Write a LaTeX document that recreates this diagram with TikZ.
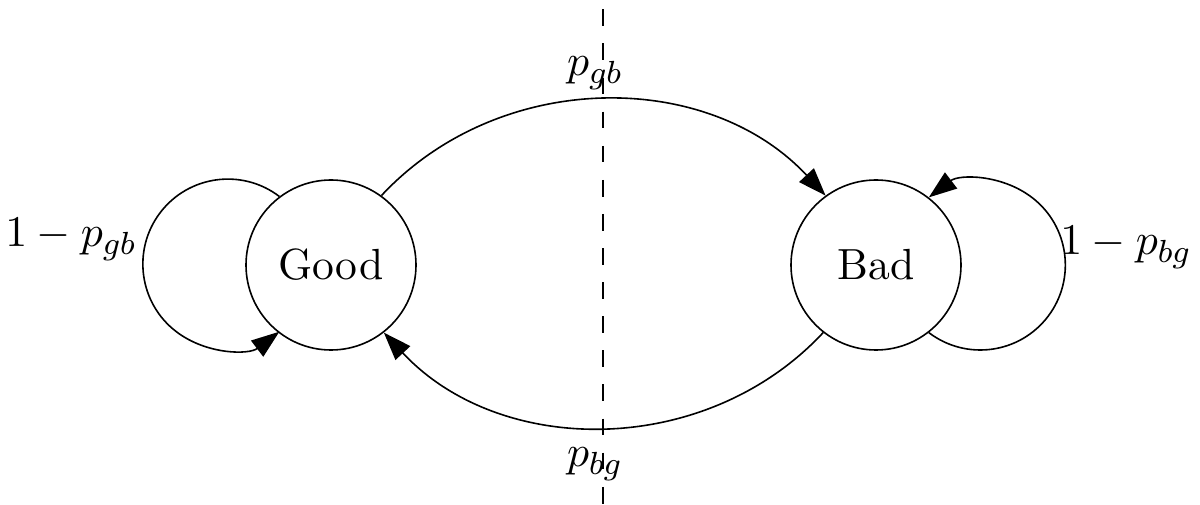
\documentclass[tikz,border=0pt]{standalone}
\usetikzlibrary{arrows.meta}
\begin{document}
\begin{tikzpicture}[x=0.25pt,y=0.25pt,
  every node/.style={font=\fontsize{10.9}{13}\selectfont},
  state/.style={draw,circle,line width=0.4pt,minimum size=42.5pt,inner sep=0pt},
  edge/.style={draw,line width=0.4pt,-{Triangle[length=7pt,width=5pt]}},
  lbl/.style={inner sep=0pt,anchor=base}]
\useasboundingbox (0,0) rectangle (1200,504);
% dashed separator
\draw[line width=0.4pt,dash pattern=on 4.175pt off 4.35pt,dash phase=6.175pt] (603,504) -- (603,0);
% states
\node[state] (good) at (331,239) {Good};
\node[state] (bad) at (876,239) {Bad};
% self loops
\path[edge] (good.127.3) arc[start angle=52.7,end angle=307.3,radius=21.25pt];
\path[edge] (bad.-52.7) arc[start angle=-127.3,end angle=127.3,radius=21.25pt];
% transitions
\path[edge] (good.54) to[out=47,in=133] (bad.126);
\path[edge] (bad.232) to[out=227,in=-47] (good.-52);
% labels
\node[lbl] (lgg) at (71,257) {$1-p_{gb}$};
\node[lbl] (lbb) at (1126,249) {$1-p_{bg}$};
\node[lbl] (lgb) at (595,428) {$p_{gb}$};
\node[lbl] (lbg) at (595,37) {$p_{bg}$};
\end{tikzpicture}
\end{document}
